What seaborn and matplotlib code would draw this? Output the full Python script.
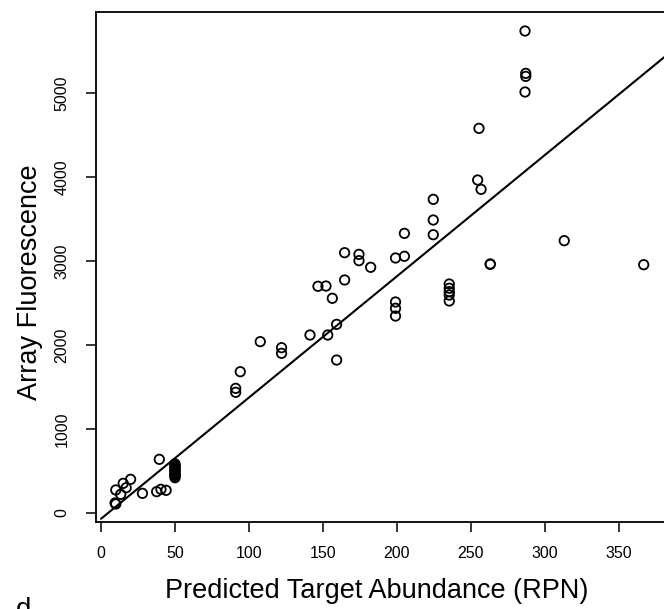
import numpy as np
import pandas as pd
import matplotlib
matplotlib.use("Agg")
import matplotlib.pyplot as plt
import seaborn as sns

# ---- data ----
rpn = [9.5, 10, 13.3, 15, 17, 20, 28, 37.6, 40.5, 44, 39.4, 10,
       50, 50, 50, 50, 50, 50, 50, 50, 50, 50, 50, 50,
       91, 91, 94.1, 107.6, 122, 122,
       141.2, 153.2, 159.2, 159.2, 146.6, 152, 156.3, 164.6, 164.6,
       174.3, 174.3, 182.2,
       199, 199, 199, 199, 205, 205,
       224.5, 224.5, 224.5,
       235.3, 235.3, 235.3, 235.3, 235.3,
       254.5, 256.8, 255.4, 263, 263,
       286.5, 287, 287, 286.5,
       313, 366.7]
fluor = [119, 274, 222, 353, 301, 401, 234, 254, 282, 270, 639, 107,
         420, 435, 450, 465, 480, 495, 510, 525, 540, 555, 570, 585,
         1437, 1484, 1682, 2040, 1901, 1968,
         2119, 2119, 2246, 1821, 2699, 2702, 2556, 2774, 3099,
         3004, 3079, 2925,
         2345, 2437, 2512, 3036, 3056, 3329,
         3313, 3488, 3734,
         2524, 2595, 2635, 2675, 2726,
         3964, 3853, 4579, 2960, 2965,
         5012, 5198, 5234, 5738,
         3242, 2956]
fit_intercept = -69.0
fit_slope = 14.44
x_ticks = [0, 50, 100, 150, 200, 250, 300, 350]
y_ticks = [0, 1000, 2000, 3000, 4000, 5000]

df = pd.DataFrame({"rpn": rpn, "fluor": fluor})
line_x = np.array([0.0, 400.0])
line_df = pd.DataFrame({"x": line_x, "y": fit_intercept + fit_slope * line_x})

sns.set_style("ticks")
plt.rcParams["font.family"] = ["Liberation Sans", "DejaVu Sans"]
plt.rcParams["text.color"] = "black"
plt.rcParams["xtick.color"] = "black"
plt.rcParams["ytick.color"] = "black"

W, H = 664, 609
fig = plt.figure(figsize=(W / 100, H / 100), dpi=100)
left_px, right_px, top_px, bot_px = 96, 700, 12, 522
ax = fig.add_axes([left_px / W, 1 - bot_px / H,
                   (right_px - left_px) / W, (bot_px - top_px) / H])

sns.lineplot(data=line_df, x="x", y="y", ax=ax, color="black", lw=1.5)
sns.scatterplot(data=df, x="rpn", y="fluor", ax=ax, s=46,
                facecolor="none", edgecolor="black", linewidth=1.3, zorder=3)

# axis ranges: px -> data mapping (x0 at 101 px, 1.48 px/unit; y0 at 513 px, 0.084 px/unit)
ax.set_xlim((left_px - 101) / 1.48, (right_px - 101) / 1.48)
ax.set_ylim((513 - bot_px) / 0.084, (513 - top_px) / 0.084)

ax.set_xticks(x_ticks)
ax.set_yticks(y_ticks)
ax.set_xticklabels([str(v) for v in x_ticks])
ax.set_yticklabels([str(v) for v in y_ticks], rotation=90, va="center")
ax.tick_params(axis="both", direction="out", length=7, width=1.1,
               labelsize=11.5, color="black", labelcolor="black")
ax.tick_params(axis="x", pad=10)
ax.tick_params(axis="y", pad=12)
for sp in ax.spines.values():
    sp.set_linewidth(1.3)
    sp.set_color("black")
ax.set_xlabel("")
ax.set_ylabel("")

fig.text(377 / W, 1 - 591 / H, "Predicted Target Abundance (RPN)",
         ha="center", va="center", fontsize=19.5, color="black")
fig.text(30 / W, 1 - 282 / H, "Array Fluorescence",
         ha="center", va="center", rotation=90, fontsize=19.5, color="black")
fig.text(16 / W, 1 - 597 / H, "d", ha="left", va="top", fontsize=20,
         color="black")

fig.savefig("out.png", dpi=100)
